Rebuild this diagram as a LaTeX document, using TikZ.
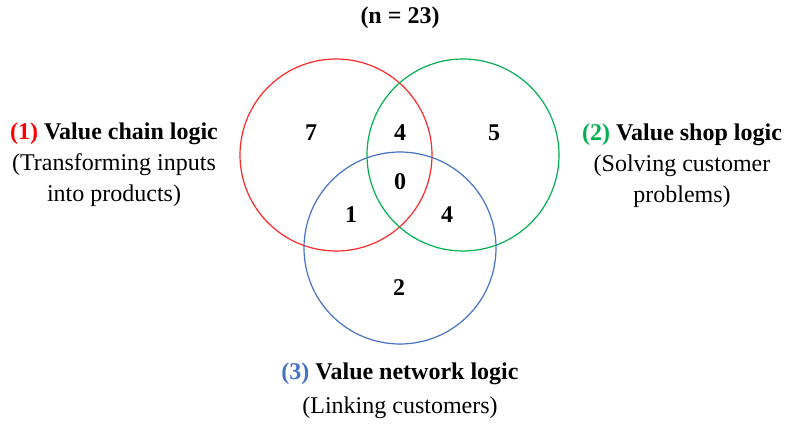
\documentclass[tikz,border=0pt]{standalone}
\usepackage{fontspec}
\setmainfont{Liberation Serif}
\usepackage{xcolor}
\usetikzlibrary{positioning}

\definecolor{chainred}{RGB}{255,40,40}
\definecolor{shopgreen}{RGB}{0,176,80}
\definecolor{netblue}{RGB}{68,114,196}

\tikzset{
    venn/.style={line width=1.2pt},
    count/.style={font=\fontsize{24}{28}\selectfont\bfseries},
    logic/.style={align=center, font=\fontsize{24}{31}\selectfont}
}

\begin{document}
\begin{tikzpicture}[x=1pt, y=-1pt]
    \useasboundingbox (0,0) rectangle (789,423);

    % 1. Ba vòng tròn
    \draw[venn, chainred] (336,155) circle (96);
    \draw[venn, shopgreen] (463,155) circle (96);
    \draw[venn, netblue] (400,248) circle (96);

    % 2. Tiêu đề
    \node[count] (total) at (400,18) {(n = 23)};

    % 3. Các số trong từng vùng
    \node[count] (onlyA) at (311,133) {7};
    \node[count] (AB) at (400,133) {4};
    \node[count] (onlyB) at (494,133) {5};
    \node[count] (ABC) at (400,182) {0};
    \node[count] (AC) at (351,215) {1};
    \node[count] (BC) at (447,215) {4};
    \node[count] (onlyC) at (399,288) {2};

    % 4. Nhãn của ba logic
    \node[logic] (chain) at (114,165)
        {{\bfseries\textcolor{red}{(1)} Value chain logic}\\(Transforming inputs\\into products)};
    \node[logic] (shop) at (682,166)
        {{\bfseries\textcolor{shopgreen}{(2)} Value shop logic}\\(Solving customer\\problems)};
    \node[logic, font=\fontsize{24}{31}\selectfont\bfseries] (network) at (400,374)
        {\textcolor{netblue}{(3)} Value network logic};
    \node[logic] (networksub) at (400,408) {(Linking customers)};

\end{tikzpicture}
\end{document}
